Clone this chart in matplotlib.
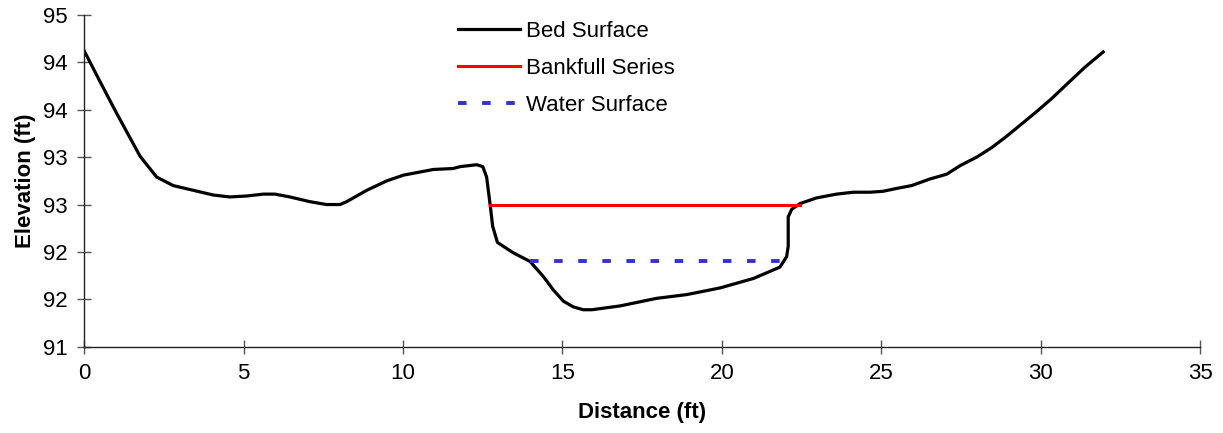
import matplotlib
matplotlib.use('Agg')
from matplotlib import pyplot as plt

# bed surface profile
bed_dist = [0.0, 0.49, 1.02, 1.75, 2.27, 2.79, 3.42, 4.05, 4.57, 5.09, 5.62, 5.98,
            6.45, 7.08, 7.60, 8.02, 8.23, 8.86, 9.49, 10.01, 10.95, 11.57, 11.79,
            12.31, 12.50, 12.62, 12.73, 12.81, 12.96, 13.46, 13.98, 14.40, 14.71,
            15.03, 15.34, 15.65, 15.92, 16.80, 17.95, 18.90, 19.94, 20.99, 21.82,
            22.03, 22.08, 22.08, 22.19, 22.45, 22.97, 23.60, 24.12, 24.65, 25.06,
            25.48, 25.95, 26.53, 27.05, 27.47, 27.99, 28.46, 28.93, 29.40, 29.87,
            30.35, 30.82, 31.39, 31.96]
bed_elev = [94.12, 93.80, 93.46, 93.01, 92.79, 92.70, 92.65, 92.60, 92.58, 92.59,
            92.61, 92.61, 92.58, 92.53, 92.50, 92.50, 92.53, 92.65, 92.75, 92.81,
            92.87, 92.88, 92.90, 92.92, 92.90, 92.79, 92.50, 92.27, 92.10, 91.99,
            91.90, 91.74, 91.60, 91.48, 91.42, 91.39, 91.39, 91.43, 91.51, 91.55,
            91.62, 91.72, 91.84, 91.95, 92.06, 92.37, 92.45, 92.51, 92.57, 92.61,
            92.63, 92.63, 92.64, 92.67, 92.70, 92.77, 92.82, 92.91, 93.00, 93.10,
            93.22, 93.35, 93.48, 93.62, 93.77, 93.95, 94.11]

bankfull_dist = [12.73, 22.45]
bankfull_elev = [92.5, 92.5]

water_dist = [13.98, 21.88]
water_elev = [91.9, 91.9]

y_ticks = [91, 91.5, 92, 92.5, 93, 93.5, 94, 94.5]
y_labels = ['91', '92', '92', '93', '93', '94', '94', '95']
x_ticks = [0, 5, 10, 15, 20, 25, 30, 35]

plt.rcParams['font.family'] = ['Liberation Sans', 'DejaVu Sans']
plt.rcParams['font.size'] = 16

fig = plt.figure(figsize=(12.23, 4.33), dpi=100)
ax = fig.add_axes([0.0689, 0.1993, 0.9124, 0.7661])

ax.plot(bed_dist, bed_elev, color='black', lw=2.3, label='Bed Surface')
ax.plot(bankfull_dist, bankfull_elev, color='#ff0000', lw=2.2, label='Bankfull Series')
ax.plot(water_dist, water_elev, color='#3333cc', lw=2.8, dashes=(2.2, 4.0),
        label='Water Surface')

ax.set_xlim(0, 35)
ax.set_ylim(91, 94.5)
ax.set_xticks(x_ticks)
ax.set_yticks(y_ticks)
ax.set_yticklabels(y_labels)

for s in ['top', 'right']:
    ax.spines[s].set_visible(False)
for s in ['left', 'bottom']:
    ax.spines[s].set_linewidth(1.0)
    ax.spines[s].set_color('#222222')
ax.tick_params(direction='inout', length=10, width=1.0, color='#555555',
               labelsize=16, pad=7)
ax.tick_params(axis='x', pad=7)

ax.set_xlabel('Distance (ft)', fontweight='bold', fontsize=16, labelpad=13)
ax.set_ylabel('Elevation (ft)', fontweight='bold', fontsize=16, labelpad=5)

ax.legend(loc='upper left', bbox_to_anchor=(458 / 1223, 1 - 21 / 433),
          bbox_transform=fig.transFigure, frameon=False, borderpad=0,
          borderaxespad=0, handlelength=2.8, handletextpad=0.25,
          labelspacing=0.72, fontsize=16)

fig.savefig('out.png', dpi=100)
